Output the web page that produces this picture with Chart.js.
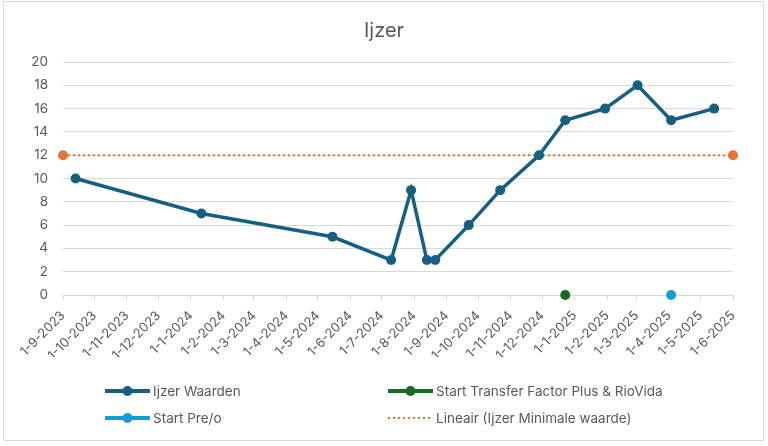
<!DOCTYPE html>
<html>
<head>
<meta charset="utf-8">
<title>Ijzer</title>
<script src="https://cdn.jsdelivr.net/npm/chart.js@4.4.1/dist/chart.umd.min.js"></script>
<style>
  body { margin: 0; background: #fff; font-family: Inter, "Noto Sans", sans-serif; }
  #frame { position: absolute; left: 3px; top: 1px; width: 759px; height: 438px; border: 1px solid #d9d9d9; }
  #wrap { position: absolute; left: 0; top: 0; width: 768px; height: 446px; }
  #title { position: absolute; left: 0; top: 16px; width: 768px; text-align: center; font-size: 20px; color: #595959; line-height: 28px; }
  .item { position: absolute; display: flex; align-items: center; height: 20px; font-size: 13.5px; color: #595959; white-space: nowrap; }
  .item svg { margin-right: 3px; }
</style>
</head>
<body>
<div id="frame"></div>
<div id="wrap"><canvas id="chart" width="768" height="446"></canvas></div>
<div id="title">Ijzer</div>
<div id="legend"></div>
<script>
// meetdatums en waarden
const ijzerDates = ['2023-09-13', '2024-01-11', '2024-05-15', '2024-07-10', '2024-07-29', '2024-08-13',
  '2024-08-21', '2024-09-22', '2024-10-22', '2024-11-28', '2024-12-23', '2025-01-30',
  '2025-03-02', '2025-04-03', '2025-05-14'];
const ijzerValues = [10, 7, 5, 3, 9, 3, 3, 6, 9, 12, 15, 16, 18, 15, 16];

const transferDates = ['2024-12-23'];
const transferValues = [0];

const preoDates = ['2025-04-03'];
const preoValues = [0];

const minimumDates = ['2023-09-01', '2025-06-01'];
const minimumValues = [12, 12];

const tickDates = ['2023-09-01', '2023-10-01', '2023-11-01', '2023-12-01', '2024-01-01', '2024-02-01',
  '2024-03-01', '2024-04-01', '2024-05-01', '2024-06-01', '2024-07-01', '2024-08-01', '2024-09-01',
  '2024-10-01', '2024-11-01', '2024-12-01', '2025-01-01', '2025-02-01', '2025-03-01', '2025-04-01',
  '2025-05-01', '2025-06-01'];
const yTicks = [0, 2, 4, 6, 8, 10, 12, 14, 16, 18, 20];

const toMs = s => { const p = s.split('-').map(Number); return Date.UTC(p[0], p[1] - 1, p[2]); };
const fmt = ms => { const d = new Date(ms); return d.getUTCDate() + '-' + (d.getUTCMonth() + 1) + '-' + d.getUTCFullYear(); };
const pts = (dates, vals) => dates.map((d, i) => ({ x: toMs(d), y: vals[i] }));

const grey = '#595959';
const gridColor = '#d9d9d9';
const fam = 'Inter, "Noto Sans", sans-serif';

const ctx = document.getElementById('chart').getContext('2d');
const chart = new Chart(ctx, {
  type: 'line',
  data: {
    datasets: [
      {
        label: 'Ijzer Waarden',
        data: pts(ijzerDates, ijzerValues),
        borderColor: '#156082', backgroundColor: '#156082',
        borderWidth: 3.5, pointRadius: 5, pointBorderWidth: 0, tension: 0, clip: false,
      },
      {
        label: 'Start Transfer Factor Plus & RioVida',
        data: pts(transferDates, transferValues),
        borderColor: '#196B24', backgroundColor: '#196B24',
        borderWidth: 3.5, pointRadius: 5, pointBorderWidth: 0, clip: false,
      },
      {
        label: 'Start Pre/o',
        data: pts(preoDates, preoValues),
        borderColor: '#0F9ED5', backgroundColor: '#0F9ED5',
        borderWidth: 3.5, pointRadius: 5, pointBorderWidth: 0, clip: false,
      },
      {
        label: 'Lineair (Ijzer Minimale waarde)',
        data: pts(minimumDates, minimumValues),
        borderColor: '#E97132', backgroundColor: '#E97132',
        borderWidth: 2, borderDash: [2, 3], pointRadius: 5, pointBorderWidth: 0, clip: false,
        dotted: true,
      },
    ],
  },
  options: {
    responsive: false,
    animation: false,
    layout: { padding: { left: 0, right: 35, top: 62, bottom: 89 } },
    plugins: {
      legend: { display: false },
      tooltip: { enabled: false },
      title: { display: false },
    },
    scales: {
      x: {
        type: 'linear',
        min: toMs(tickDates[0]),
        max: toMs(tickDates[tickDates.length - 1]),
        afterBuildTicks: s => { s.ticks = tickDates.map(d => ({ value: toMs(d) })); },
        afterFit: s => { s.height = 62; },
        grid: { drawOnChartArea: false, drawTicks: true, tickLength: 5, color: gridColor },
        border: { display: true, color: gridColor },
        ticks: {
          autoSkip: false, minRotation: 45, maxRotation: 45, padding: 8,
          color: grey, font: { family: fam, size: 13 },
          callback: v => fmt(v),
        },
      },
      y: {
        min: 0, max: 20,
        afterBuildTicks: s => { s.ticks = yTicks.map(v => ({ value: v })); },
        afterFit: s => { s.width = 63; },
        grid: { drawTicks: false, color: gridColor },
        border: { display: false },
        ticks: { padding: 15, color: grey, font: { family: fam, size: 13.5 } },
      },
    },
  },
});

// legenda in twee kolommen, zoals in Excel
const slots = [[105, 381], [388, 381], [105, 408], [388, 408]];
const legend = document.getElementById('legend');
chart.data.datasets.forEach((ds, i) => {
  const el = document.createElement('div');
  el.className = 'item';
  el.style.left = slots[i][0] + 'px';
  el.style.top = slots[i][1] + 'px';
  let sym;
  if (ds.dotted) {
    sym = `<svg width="45" height="10"><line x1="0" y1="5" x2="45" y2="5" stroke="${ds.borderColor}" stroke-width="2" stroke-dasharray="2 3"/></svg>`;
  } else {
    sym = `<svg width="45" height="12"><line x1="0" y1="6" x2="45" y2="6" stroke="${ds.borderColor}" stroke-width="4" stroke-linecap="round"/><circle cx="22.5" cy="6" r="5" fill="${ds.borderColor}"/></svg>`;
  }
  el.innerHTML = sym;
  const t = document.createElement('span');
  t.textContent = ds.label;
  el.appendChild(t);
  legend.appendChild(el);
});
</script>
</body>
</html>
